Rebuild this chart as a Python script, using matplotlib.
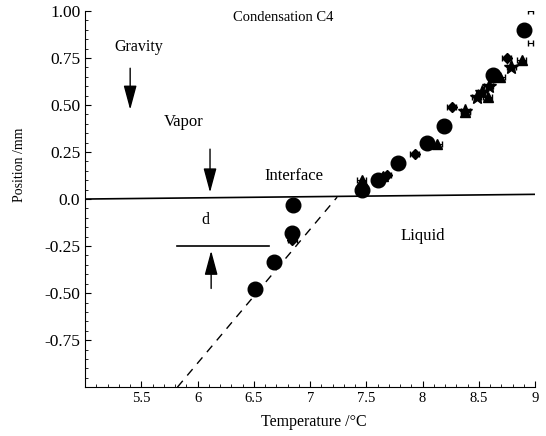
import matplotlib
matplotlib.use("Agg")
import matplotlib.pyplot as plt
from matplotlib.ticker import MultipleLocator

# circles (large filled)
circ_T = [6.51, 6.68, 6.84, 6.85, 7.46, 7.60, 7.78, 8.04, 8.19, 8.63, 8.90]
circ_pos = [-0.48, -0.335, -0.18, -0.03, 0.05, 0.10, 0.19, 0.30, 0.39, 0.66, 0.90]
# diamonds
dia_T = [6.84, 7.68, 7.93, 8.26, 8.75]
dia_pos = [-0.22, 0.13, 0.24, 0.49, 0.75]
# stars
star_T = [8.38, 8.48, 8.53, 8.59, 8.79]
star_pos = [0.47, 0.54, 0.57, 0.60, 0.70]
# triangles
tri_T = [7.46, 7.65, 8.13, 8.38, 8.58, 8.69, 8.88]
tri_pos = [0.10, 0.12, 0.29, 0.46, 0.54, 0.65, 0.74]
# bare error bars
bar_T = [8.96, 8.96]
bar_pos = [1.00, 0.83]
xerr = 0.04

xticks = [5.5, 6, 6.5, 7, 7.5, 8, 8.5, 9]
xlabels = ["5.5", "6", "6.5", "7", "7.5", "8", "8.5", "9"]
yticks = [-0.75, -0.5, -0.25, 0.0, 0.25, 0.5, 0.75, 1.0]
ylabels = ["-0.75", "-0.50", "-0.25", "0.0", "0.25", "0.50", "0.75", "1.00"]

# interface line and extrapolation line
iface_T = [5.0, 9.0]
iface_pos = [0.0, 0.025]
fit_T = [5.82, 7.24]
fit_pos = [-1.0, 0.01]

plt.rcParams["font.family"] = "Liberation Serif"
plt.rcParams["font.size"] = 11.5

fig = plt.figure(figsize=(5.46, 4.36), dpi=100)
ax = fig.add_axes([0.156, 0.112, 0.824, 0.863])

ax.plot(iface_T, iface_pos, color="black", lw=1.2)
ax.plot(fit_T, fit_pos, color="black", lw=1.0, dashes=(6, 5))

ekw = dict(fmt="none", ecolor="black", elinewidth=0.8, capsize=2.5)
ax.errorbar(dia_T, dia_pos, xerr=xerr, **ekw)
ax.errorbar(star_T, star_pos, xerr=xerr, **ekw)
ax.errorbar(tri_T, tri_pos, xerr=xerr, **ekw)
ax.errorbar(bar_T, bar_pos, xerr=0.02, **ekw)

ax.plot(tri_T, tri_pos, "^", color="black", ms=7, ls="none")
ax.plot(star_T, star_pos, "*", color="black", ms=10, ls="none")
ax.plot(dia_T, dia_pos, "D", color="black", ms=5.5, ls="none")
ax.plot(circ_T, circ_pos, "o", color="black", ms=10.5, ls="none")

# d marker line
ax.plot([5.82, 6.63], [-0.25, -0.25], color="black", lw=1.2)

ap = dict(arrowstyle="-|>,head_length=1.3,head_width=0.35", color="black", lw=1.0)
ax.annotate("", xy=(5.40, 0.46), xytext=(5.40, 0.71), arrowprops=ap)
ax.annotate("", xy=(6.11, 0.02), xytext=(6.11, 0.28), arrowprops=ap)
ax.annotate("", xy=(6.12, -0.26), xytext=(6.12, -0.49), arrowprops=ap)

ax.text(6.76, 0.965, "Condensation C4", ha="center", va="center", fontsize=10.5)
ax.text(5.48, 0.81, "Gravity", ha="center", va="center")
ax.text(5.88, 0.41, "Vapor", ha="center", va="center", fontsize=12)
ax.text(6.86, 0.125, "Interface", ha="center", va="center", fontsize=12)
ax.text(6.07, -0.11, "d", ha="center", va="center")
ax.text(8.0, -0.195, "Liquid", ha="center", va="center", fontsize=12)

ax.set_xlim(5, 9)
ax.set_ylim(-1.0, 1.0)
ax.set_xticks(xticks)
ax.set_xticklabels(xlabels)
ax.set_yticks(yticks)
ax.set_yticklabels(ylabels)
ax.xaxis.set_minor_locator(MultipleLocator(0.1))
ax.yaxis.set_minor_locator(MultipleLocator(0.05))
ax.tick_params(which="both", direction="in")
ax.tick_params(axis="x", labelsize=10.5)
ax.tick_params(axis="y", labelsize=12.5)
ax.tick_params(which="major", length=4)
ax.tick_params(which="minor", length=2)
ax.spines["top"].set_visible(False)
ax.spines["right"].set_visible(False)
ax.set_xlabel("Temperature /°C", fontsize=11.5, va="center")
ax.set_ylabel("Position /mm", fontsize=10, va="center")
ax.xaxis.set_label_coords(0.508, -0.093)
ax.yaxis.set_label_coords(-0.145, 0.59)

fig.savefig("out.png", dpi=100)
